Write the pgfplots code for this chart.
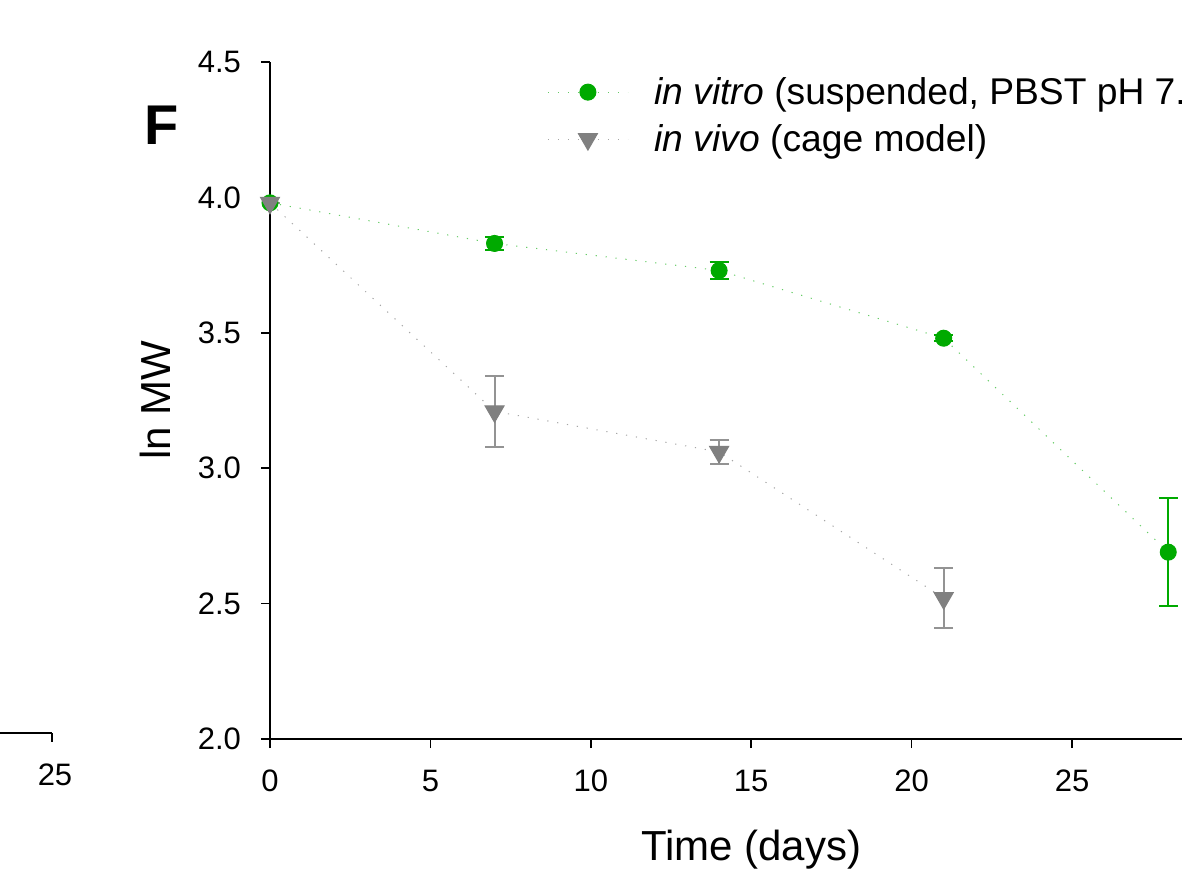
\documentclass[border=0pt]{standalone}
\usepackage{pgfplots}
\pgfplotsset{compat=1.18}
\usepackage{pgfplotstable}
\usepackage{fontspec}
\setmainfont{Liberation Sans}
\definecolor{vitro}{RGB}{0,170,0}
\definecolor{vivo}{RGB}{128,128,128}

\pgfplotstableread{
x y e
0 3.98 0
7 3.83 0.025
14 3.73 0.033
21 3.48 0.012
28 2.69 0.20
}\tblvitro
\pgfplotstableread{
x y e
0 3.98 0
7 3.21 0.13
14 3.06 0.045
21 2.52 0.11
}\tblvivo

\begin{document}
\begin{tikzpicture}
\useasboundingbox (0,0) rectangle (591pt,441.5pt);
\clip (0,0) rectangle (591pt,441.5pt);
% fragment of neighbouring panel
\begin{axis}[at={(26pt,75pt)}, anchor=south east, scale only axis,
  width=300pt, height=100pt, xmin=0, xmax=25, ymin=0, ymax=1,
  axis x line*=bottom, hide y axis, xtick={25}, tick align=outside,
  major tick length=4.5pt, axis line style={line width=0.8pt},
  xtick style={line width=0.8pt,black},
  ticklabel style={font=\fontsize{15.5}{17}\selectfont},
  xticklabel style={yshift=-7.5pt, xshift=1.5pt},
  /pgf/number format/assume math mode=true]
\addplot[draw=none] coordinates {(0,0)};
\end{axis}
% main panel
\begin{axis}[at={(135pt,72pt)}, anchor=south west, scale only axis,
  width=481.2pt, height=338.5pt, xmin=0, xmax=30, ymin=2, ymax=4.5,
  axis x line*=bottom, axis y line*=left,
  xtick={0,5,...,30}, ytick={2,2.5,...,4.5}, tick align=outside,
  major tick length=4.5pt, axis line style={line width=0.8pt},
  tick style={line width=0.8pt,black},
  ticklabel style={font=\fontsize{15.5}{17}\selectfont},
  xticklabel style={yshift=-7.5pt},
  yticklabel style={xshift=-6.5pt, /pgf/number format/.cd, fixed, fixed zerofill, precision=1},
  /pgf/number format/assume math mode=true,
  xlabel={Time (days)}, ylabel={ln MW},
  label style={font=\fontsize{21}{24}\selectfont},
  xlabel style={at={(axis description cs:0.5,-0.164)}, anchor=center},
  ylabel style={at={(axis description cs:-0.1195,0.5)}, anchor=center},
  legend style={at={(axis description cs:0.2816,0.99)}, anchor=north west,
    draw=none, fill=none, font=\fontsize{18.6}{22}\selectfont, row sep=4.5pt},
  legend cell align=left,
  legend image code/.code={\draw[mark repeat=2,mark phase=2,#1] plot coordinates {(0pt,0pt)(20pt,0pt)(40pt,0pt)}; \path (51pt,0pt);},
]
\addplot[draw=vitro!60, dash pattern=on 0.6pt off 4.4pt, line width=0.5pt,
  mark=*, mark size=4pt, mark options={solid, fill=vitro, draw=vitro},
  error bars/.cd, y dir=both, y explicit,
  error bar style={solid, line width=1pt, vitro},
  error mark options={rotate=90, mark size=4.75pt, line width=1pt, vitro}]
  table[x=x, y=y, y error=e] {\tblvitro};
\addlegendentry{\textit{in vitro} (suspended, PBST pH 7.4)}
\addplot[draw=vivo!70, dash pattern=on 0.6pt off 4.4pt, line width=0.5pt,
  mark=triangle*, mark size=5.5pt, mark options={solid, rotate=180, fill=vivo, draw=vivo},
  error bars/.cd, y dir=both, y explicit,
  error bar style={solid, line width=1pt, vivo!85},
  error mark options={rotate=90, mark size=4.75pt, line width=1pt, vivo!85}]
  table[x=x, y=y, y error=e] {\tblvivo};
\addlegendentry{\textit{in vivo} (cage model)}
\end{axis}
\node[font=\bfseries\fontsize{28}{30}\selectfont] at (81pt,379pt) {F};
\end{tikzpicture}
\end{document}
